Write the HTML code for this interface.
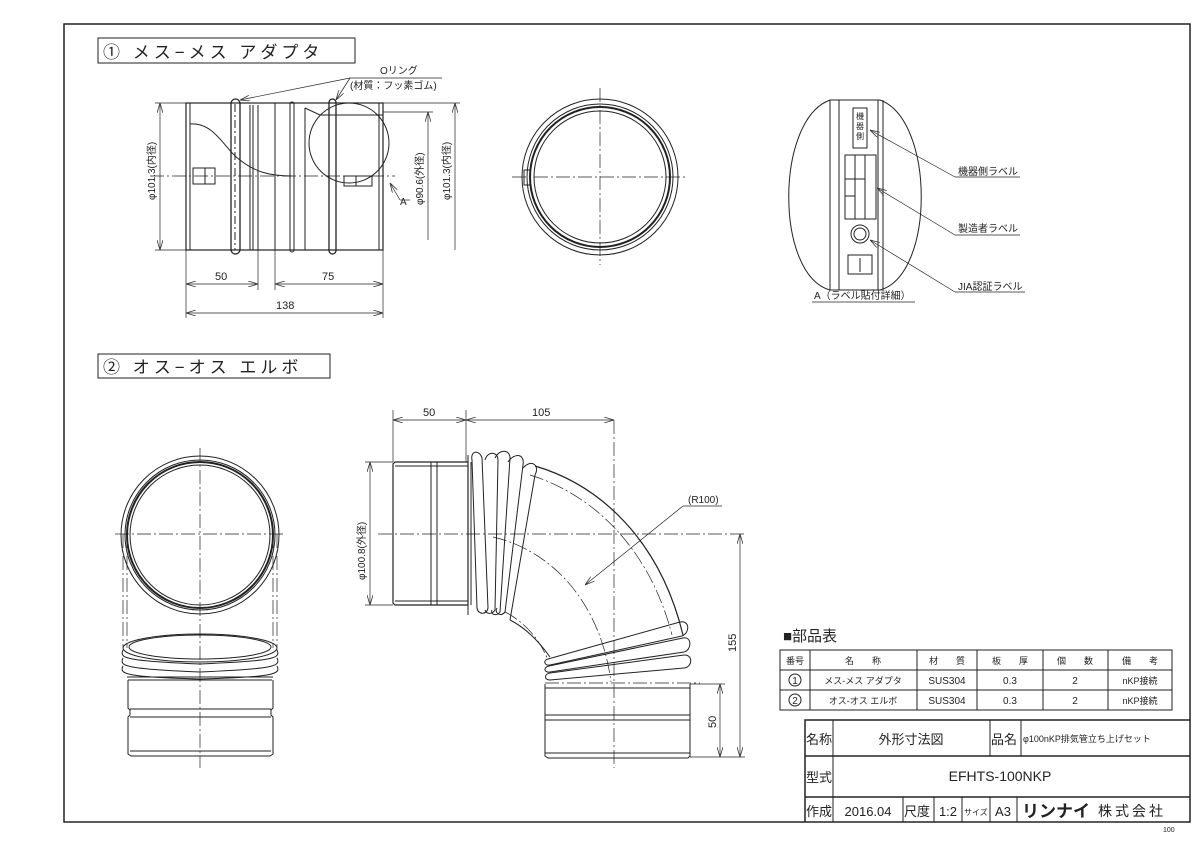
<!DOCTYPE html>
<html><head><meta charset="utf-8"><style>
html,body{margin:0;padding:0;background:#fff}
svg{display:block}
text{font-family:"Liberation Sans","Noto Sans CJK JP",sans-serif;fill:#222}
</style></head><body>
<svg width="1200" height="849" viewBox="0 0 1200 849" xmlns="http://www.w3.org/2000/svg">
<defs>
<marker id="ar" viewBox="0 0 10 6" refX="10" refY="3" markerWidth="10" markerHeight="6" orient="auto-start-reverse" markerUnits="userSpaceOnUse"><path d="M0,0 L10,3 L0,6" fill="none" stroke="#333" stroke-width="0.8"/></marker>
</defs>
<g fill="none" stroke="#222" stroke-width="1">
<rect x="64" y="24" width="1126" height="798" stroke-width="1.5"/>

<rect x="98" y="38" width="257" height="25"/>
<rect x="186" y="103" width="197" height="147" stroke-width="1.2"/>
<line x1="190" y1="103" x2="190" y2="250"/>
<line x1="379" y1="103" x2="379" y2="250"/>
<path d="M190,124 C215,122 225,150 240,160 C255,172 270,176 292,176"/>
<rect x="231" y="99" width="9" height="155" rx="4.5" stroke-width="1.3"/>
<line x1="235" y1="104" x2="235" y2="250" stroke-dasharray="8,3,2,3"/>
<line x1="250" y1="105" x2="250" y2="250"/><line x1="253" y1="105" x2="253" y2="250"/>
<line x1="258" y1="105" x2="258" y2="250"/><line x1="275" y1="103" x2="275" y2="250"/>
<rect x="290" y="102" width="4" height="150" rx="2"/>
<line x1="305" y1="108" x2="305" y2="250"/>
<path d="M305,108 L320,115 L383,115"/>
<rect x="329" y="99" width="7" height="155" rx="3.5" stroke-width="1.3"/>
<circle cx="349" cy="143" r="40"/>
<rect x="193" y="168" width="22" height="16"/><line x1="205" y1="168" x2="205" y2="184"/>
<rect x="344" y="176" width="28" height="10"/><line x1="356" y1="176" x2="356" y2="186"/>
<line x1="150" y1="176" x2="395" y2="176" stroke-dasharray="14,3,2,3" stroke-width="0.7"/>
<g stroke-width="0.7">
<line x1="160" y1="103" x2="160" y2="250" marker-start="url(#ar)" marker-end="url(#ar)"/>
<line x1="155" y1="103" x2="186" y2="103"/><line x1="155" y1="250" x2="186" y2="250"/>
<line x1="428" y1="112" x2="428" y2="240" marker-start="url(#ar)"/>
<line x1="383" y1="112" x2="433" y2="112"/>
<line x1="455" y1="103" x2="455" y2="250" marker-start="url(#ar)"/>
<line x1="383" y1="103" x2="460" y2="103"/>
<line x1="186" y1="250" x2="186" y2="318"/><line x1="383" y1="250" x2="383" y2="318"/>
<line x1="258" y1="250" x2="258" y2="290"/><line x1="275" y1="250" x2="275" y2="290"/>
<line x1="186" y1="284" x2="258" y2="284" marker-start="url(#ar)" marker-end="url(#ar)"/>
<line x1="275" y1="284" x2="383" y2="284" marker-start="url(#ar)" marker-end="url(#ar)"/>
<line x1="186" y1="313" x2="383" y2="313" marker-start="url(#ar)" marker-end="url(#ar)"/>
<line x1="350" y1="78" x2="240" y2="100" marker-end="url(#ar)"/>
<line x1="350" y1="78" x2="336" y2="100" marker-end="url(#ar)"/>
<line x1="350" y1="78" x2="442" y2="78"/>
<line x1="400" y1="200" x2="390" y2="183" marker-end="url(#ar)"/>
<line x1="400" y1="200" x2="410" y2="200"/>
</g>

<circle cx="600" cy="177" r="78"/>
<circle cx="600" cy="177" r="73"/>
<circle cx="600" cy="177" r="70" stroke-width="2"/>
<circle cx="600" cy="177" r="66"/>
<rect x="524" y="170" width="6" height="15"/>
<line x1="512" y1="177" x2="688" y2="177" stroke-dasharray="14,3,2,3" stroke-width="0.7"/>
<line x1="600" y1="88" x2="600" y2="265" stroke-dasharray="14,3,2,3" stroke-width="0.7"/>

<path d="M830,100 L880,100 C935,120 935,275 880,290 L830,290 C775,275 775,120 830,100 Z"/>
<line x1="830" y1="100" x2="830" y2="290"/><line x1="839" y1="100" x2="839" y2="290"/>
<line x1="878" y1="100" x2="878" y2="290"/><line x1="883" y1="100" x2="883" y2="290"/>
<rect x="853" y="108" width="14" height="40"/>
<rect x="845" y="155" width="31" height="64"/>
<line x1="855" y1="155" x2="855" y2="219"/><line x1="865" y1="155" x2="865" y2="219"/>
<line x1="845" y1="179" x2="865" y2="179"/><line x1="845" y1="196" x2="855" y2="196"/>
<circle cx="860" cy="234" r="9"/><circle cx="860" cy="234" r="6"/>
<rect x="848" y="255" width="24" height="19"/><line x1="860" y1="258" x2="860" y2="272"/>
<g stroke-width="0.7">
<line x1="955" y1="177" x2="870" y2="130" marker-end="url(#ar)"/><line x1="955" y1="177" x2="1020" y2="177"/>
<line x1="955" y1="235" x2="877" y2="188" marker-end="url(#ar)"/><line x1="955" y1="235" x2="1020" y2="235"/>
<line x1="955" y1="292" x2="870" y2="240" marker-end="url(#ar)"/><line x1="955" y1="292" x2="1025" y2="292"/>
<line x1="812" y1="302" x2="915" y2="302"/>
</g>

<rect x="98" y="354" width="232" height="24"/>

<circle cx="200" cy="535" r="79"/>
<circle cx="200" cy="535" r="75"/>
<circle cx="200" cy="535" r="73" stroke-width="2"/>
<circle cx="200" cy="535" r="70"/>
<line x1="115" y1="534" x2="286" y2="534" stroke-dasharray="14,3,2,3" stroke-width="0.7"/>
<line x1="200" y1="448" x2="200" y2="768" stroke-dasharray="14,3,2,3" stroke-width="0.7"/>
<g stroke-dasharray="14,3,2,3" stroke-width="0.7">
<line x1="123" y1="534" x2="123" y2="648"/><line x1="127" y1="534" x2="127" y2="648"/>
<line x1="277" y1="534" x2="277" y2="648"/><line x1="273" y1="534" x2="273" y2="648"/>
</g>
<ellipse cx="200" cy="648" rx="77" ry="14"/>
<ellipse cx="200" cy="647" rx="71" ry="12"/>
<path d="M123,650 C119,658 125,661 200,664 C275,661 281,658 277,650"/>
<path d="M123,658 C119,666 125,669 200,672 C275,669 281,666 277,658"/>
<path d="M123,666 C119,674 125,677 200,679 C275,677 281,674 277,666"/>
<line x1="127" y1="677" x2="273" y2="677"/><line x1="128" y1="680" x2="272" y2="680"/>
<path d="M128,680 L128,708 L130,710 L130,715 L128,717 L128,754 L131,756 L270,756 L273,754 L273,717 L271,715 L271,710 L273,708 L273,680"/>
<line x1="130" y1="709" x2="271" y2="709"/><line x1="130" y1="717" x2="271" y2="717"/>
<line x1="130" y1="751" x2="271" y2="751"/>

<path d="M395,462 L468,462 L468,605 L395,605 L393,603 L393,464 Z" stroke-width="1.2"/>
<line x1="395" y1="466" x2="468" y2="466"/><line x1="395" y1="601" x2="468" y2="601"/>
<line x1="431" y1="462" x2="431" y2="605"/><line x1="437" y1="462" x2="437" y2="605"/>
<line x1="468" y1="455" x2="468" y2="615"/><line x1="471" y1="462" x2="471" y2="605"/>
<path d="M472,460 C470,450 480,450 482,458 L488,608 C487,615 478,615 477,608 Z"/>
<path d="M485,460 C488,450 498,452 498,460 L495,610 C492,615 486,614 485,610"/>
<path d="M495,458 C500,448 510,450 510,458 L500,612 C496,617 490,614 492,610"/>
<path d="M508,462 C515,452 525,454 523,465 L505,612 C500,618 494,612 497,608"/>
<path d="M523,468 C532,458 540,466 535,475 L510,620"/>
<path d="M535,466 C600,485 660,540 683,635" stroke-width="1.2"/>
<path d="M530,475 C595,495 650,550 672,635" stroke-dasharray="14,3,2,3" stroke-width="0.7"/>
<path d="M493,537 C550,550 600,600 611,682" stroke-dasharray="14,3,2,3" stroke-width="0.7"/>
<path d="M510,620 C530,630 545,650 550,657" stroke-width="1"/>
<path d="M505,612 C525,622 540,640 548,660" stroke-dasharray="14,3,2,3" stroke-width="0.7"/>
<path d="M548,659 L680,622 C690,620 690,633 682,636 L550,665 C544,666 543,660 548,659"/>
<path d="M549,666 L683,638 C692,636 692,650 684,652 L550,672 C544,673 543,667 549,666"/>
<path d="M550,673 L684,655 C693,654 693,667 684,668 L550,680 C544,680 544,674 550,673"/>
<line x1="545" y1="683" x2="700" y2="683" stroke-dasharray="14,3,2,3" stroke-width="0.7"/>
<path d="M545,684 L545,756 L548,758 L688,758 L690,756 L690,684"/>
<line x1="545" y1="688" x2="690" y2="688"/>
<line x1="545" y1="715" x2="690" y2="715"/><line x1="545" y1="720" x2="690" y2="720"/>
<line x1="545" y1="753" x2="690" y2="753"/>
<line x1="378" y1="534" x2="745" y2="534" stroke-dasharray="14,3,2,3" stroke-width="0.7"/>
<line x1="614" y1="420" x2="614" y2="768" stroke-dasharray="14,3,2,3" stroke-width="0.7"/>
<g stroke-width="0.7">
<line x1="393" y1="410" x2="393" y2="462"/><line x1="466" y1="410" x2="466" y2="462"/>
<line x1="393" y1="420" x2="466" y2="420" marker-start="url(#ar)" marker-end="url(#ar)"/>
<line x1="466" y1="420" x2="614" y2="420" marker-start="url(#ar)" marker-end="url(#ar)"/>
<line x1="365" y1="462" x2="393" y2="462"/><line x1="365" y1="605" x2="393" y2="605"/>
<line x1="370" y1="462" x2="370" y2="605" marker-start="url(#ar)" marker-end="url(#ar)"/>
<line x1="740" y1="534" x2="740" y2="757" marker-start="url(#ar)" marker-end="url(#ar)"/>
<line x1="690" y1="757" x2="745" y2="757"/>
<line x1="690" y1="684" x2="725" y2="684"/>
<line x1="720" y1="684" x2="720" y2="757" marker-start="url(#ar)" marker-end="url(#ar)"/>
<line x1="683" y1="506" x2="585" y2="585" marker-end="url(#ar)"/>
<line x1="683" y1="506" x2="722" y2="506"/>
</g>

<g stroke-width="1">
<rect x="780" y="650" width="392" height="60"/>
<line x1="780" y1="670" x2="1172" y2="670"/><line x1="780" y1="690" x2="1172" y2="690"/>
<line x1="810" y1="650" x2="810" y2="710"/><line x1="917" y1="650" x2="917" y2="710"/>
<line x1="977" y1="650" x2="977" y2="710"/><line x1="1043" y1="650" x2="1043" y2="710"/>
<line x1="1108" y1="650" x2="1108" y2="710"/>
</g>
<circle cx="795" cy="680" r="6"/><circle cx="795" cy="700" r="6"/>
<g stroke-width="1.5">
<path d="M805,822 L805,720 L1190,720"/>
<line x1="805" y1="756" x2="1190" y2="756"/>
<line x1="805" y1="797" x2="1190" y2="797"/>
</g>
<g stroke-width="1">
<line x1="833" y1="720" x2="833" y2="822"/>
<line x1="990" y1="720" x2="990" y2="756"/><line x1="1021" y1="720" x2="1021" y2="756"/>
<line x1="903" y1="797" x2="903" y2="822"/><line x1="934" y1="797" x2="934" y2="822"/>
<line x1="962" y1="797" x2="962" y2="822"/><line x1="990" y1="797" x2="990" y2="822"/>
<line x1="1017" y1="797" x2="1017" y2="822"/>
</g>
</g>

<text x="103" y="58" font-size="17" letter-spacing="4">①  メス−メス  アダプタ</text>
<text x="103" y="373" font-size="17" letter-spacing="4">②  オス−オス  エルボ</text>
<text x="380" y="74" font-size="10">Oリング</text>
<text x="350" y="89" font-size="10">(材質：フッ素ゴム)</text>
<text x="215" y="280" font-size="11">50</text>
<text x="322" y="280" font-size="11">75</text>
<text x="276" y="309" font-size="11">138</text>
<text x="400" y="205" font-size="10">A</text>
<text font-size="10" transform="translate(155,200) rotate(-90)">φ101.3(内径)</text>
<text font-size="10" transform="translate(423,205) rotate(-90)">φ90.6(外径)</text>
<text font-size="10" transform="translate(450,200) rotate(-90)">φ101.3(内径)</text>
<g font-size="8" text-anchor="middle">
<text x="860" y="119">機</text><text x="860" y="129">器</text><text x="860" y="139">側</text>
</g>
<text x="958" y="175" font-size="10">機器側ラベル</text>
<text x="958" y="232" font-size="10">製造者ラベル</text>
<text x="958" y="290" font-size="10">JIA認証ラベル</text>
<text x="814" y="299" font-size="10">A（ラベル貼付詳細）</text>
<text x="423" y="416" font-size="11">50</text>
<text x="532" y="416" font-size="11">105</text>
<text x="688" y="503" font-size="10">(R100)</text>
<text font-size="10" transform="translate(365,580) rotate(-90)">φ100.8(外径)</text>
<text font-size="11" transform="translate(736,652) rotate(-90)">155</text>
<text font-size="11" transform="translate(716,728) rotate(-90)">50</text>
<text x="783" y="641" font-size="15">■部品表</text>
<g font-size="9" text-anchor="middle">
<text x="795" y="664">番号</text><text x="863" y="664">名　　称</text><text x="947" y="664">材　　質</text>
<text x="1010" y="664">板　　厚</text><text x="1075" y="664">個　　数</text><text x="1140" y="664">備　　考</text>
<text x="795" y="684" font-size="10">1</text><text x="795" y="704" font-size="10">2</text>
<text x="863" y="684">メス-メス アダプタ</text><text x="863" y="704">オス-オス エルボ</text>
<text x="947" y="684" font-size="10">SUS304</text><text x="947" y="704" font-size="10">SUS304</text>
<text x="1010" y="684" font-size="10">0.3</text><text x="1010" y="704" font-size="10">0.3</text>
<text x="1075" y="684" font-size="10">2</text><text x="1075" y="704" font-size="10">2</text>
<text x="1140" y="684">nKP接続</text><text x="1140" y="704">nKP接続</text>
</g>
<g font-size="13">
<text x="806" y="744">名称</text>
<text x="911" y="744" text-anchor="middle">外形寸法図</text>
<text x="991" y="744">品名</text>
<text x="1023" y="742" font-size="9">φ100nKP排気管立ち上げセット</text>
<text x="806" y="782">型式</text>
<text x="1000" y="781" text-anchor="middle" font-size="14">EFHTS-100NKP</text>
<text x="806" y="816">作成</text>
<text x="868" y="816" text-anchor="middle">2016.04</text>
<text x="904" y="816">尺度</text>
<text x="948" y="816" text-anchor="middle">1:2</text>
<text x="964" y="815" font-size="8">サイズ</text>
<text x="1003" y="816" text-anchor="middle">A3</text>
<text x="1022" y="817" font-size="17" font-weight="bold">リンナイ</text>
<text x="1098" y="816" font-size="14" letter-spacing="3">株式会社</text>
</g>
<text x="1163" y="832" font-size="7">100</text>
</svg>
</body></html>
